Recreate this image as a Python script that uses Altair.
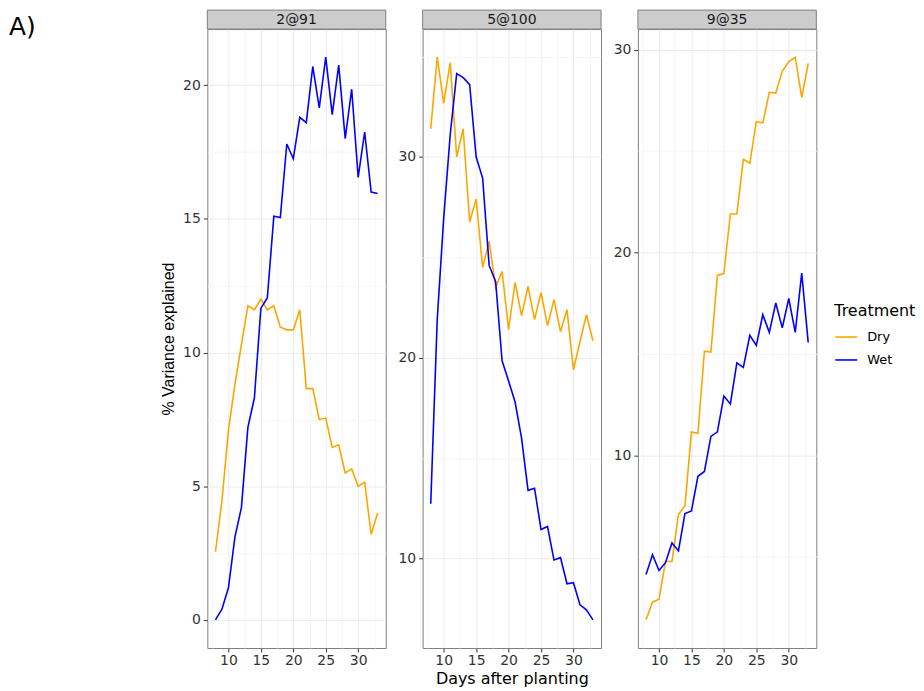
import altair as alt
import pandas as pd

days = list(range(8, 34))

panel_names = ["2@91", "5@100", "9@35"]
treatments = ["Dry", "Wet"]

p1_dry = [2.55, 4.45, 7.1, 8.8, 10.3, 11.75, 11.6, 12.0, 11.6, 11.75, 10.95, 10.85, 10.85,
          11.6, 8.65, 8.65, 7.5, 7.55, 6.45, 6.55, 5.5, 5.65, 5.0, 5.15, 3.2, 4.0]
p1_wet = [0.0, 0.4, 1.2, 3.1, 4.2, 7.2, 8.3, 11.65, 12.05, 15.1, 15.05, 17.8, 17.25,
          18.8, 18.6, 20.7, 19.15, 21.05, 18.9, 20.75, 18.0, 19.85, 16.55, 18.25, 16.0, 15.95]
p2_dry = [31.4, 34.97, 32.67, 34.7, 30.0, 31.4, 26.76, 27.9, 24.5, 25.8, 23.5, 24.3, 21.4,
          23.75, 22.1, 23.55, 21.9, 23.25, 21.6, 22.9, 21.3, 22.4, 19.4, 20.8, 22.15, 20.85]
p2_wet = [12.73, 21.9, 26.97, 31.1, 34.15, 33.95, 33.6, 30.0, 28.95, 24.6, 23.8, 19.85, 18.85,
          17.8, 16.0, 13.4, 13.5, 11.45, 11.6, 9.93, 10.05, 8.75, 8.8, 7.7, 7.45, 6.95]
p3_dry = [1.88, 2.75, 2.9, 4.76, 4.76, 7.08, 7.5, 11.15, 11.08, 15.13, 15.09, 18.87, 18.96,
          21.9, 21.9, 24.59, 24.4, 26.45, 26.39, 27.9, 27.86, 28.94, 29.42, 29.63, 27.64, 29.33]
p3_wet = [4.11, 5.09, 4.31, 4.7, 5.67, 5.28, 7.12, 7.25, 8.96, 9.2, 10.93, 11.15, 12.92,
          12.53, 14.55, 14.33, 15.91, 15.41, 16.93, 16.06, 17.51, 16.28, 17.73, 16.06, 18.98, 15.56]

x_major = [10, 15, 20, 25, 30]
x_minor = [7.5, 12.5, 17.5, 22.5, 27.5, 32.5]
y_major = [[0, 5, 10, 15, 20], [10, 20, 30], [10, 20, 30]]
y_minor = [[2.5, 7.5, 12.5, 17.5], [15, 25, 35], [5, 15, 25]]
y_domains = [[-1.05, 22.1], [5.55, 36.37], [0.49, 31.02]]
x_domain = [6.75, 34.25]

series = [(p1_dry, p1_wet), (p2_dry, p2_wet), (p3_dry, p3_wet)]

W = 179
H = 621
STRIP = 19
LABEL_FONT = "DejaVu Sans"
GRID_MAJOR = "#EBEBEB"
GRID_MINOR = "#F5F5F5"

color_scale = alt.Scale(domain=treatments, range=["#FFA500", "#0000FF"])
legend = alt.Legend(
    title="Treatment", orient="none", legendX=629, legendY=275,
    symbolType="stroke", symbolSize=484, symbolStrokeWidth=1.6,
    titleFont=LABEL_FONT, titleFontSize=16, titleFontWeight="normal", titleColor="#000000",
    labelFont=LABEL_FONT, labelFontSize=13, labelColor="#000000",
    rowPadding=4, titlePadding=6, labelOffset=9,
)


def make_panel(i):
    dry, wet = series[i]
    df = pd.DataFrame({
        "day": days * 2,
        "value": dry + wet,
        "treatment": ["Dry"] * len(days) + ["Wet"] * len(days),
    })
    strip_df = pd.DataFrame({"label": [panel_names[i]], "tag": ["A)"]})
    xs = alt.Scale(domain=x_domain, nice=False, zero=False)
    ys = alt.Scale(domain=y_domains[i], nice=False, zero=False)
    base = alt.Chart(df)

    minor = base.mark_line(opacity=0).encode(
        x=alt.X("day:Q", scale=xs, axis=alt.Axis(
            values=x_minor, orient="top", labels=False, ticks=False, domain=False,
            title=None, grid=True, gridColor=GRID_MINOR, gridWidth=1)),
        y=alt.Y("value:Q", scale=ys, axis=alt.Axis(
            values=y_minor[i], orient="right", labels=False, ticks=False, domain=False,
            title=None, grid=True, gridColor=GRID_MINOR, gridWidth=1)),
        detail="treatment:N",
    )

    x_title = "Days after planting" if i == 1 else None
    y_title = "% Variance explained" if i == 0 else None
    x_axis = alt.Axis(values=x_major, orient="bottom", grid=True, gridColor=GRID_MAJOR,
                      domain=False, tickColor="#333333", tickSize=4, labelPadding=2,
                      labelFont=LABEL_FONT, labelFontSize=14, labelColor="#333333",
                      titleFont=LABEL_FONT, titleFontSize=16, titleFontWeight="normal",
                      titleColor="#000000", titlePadding=3, format="d", title=x_title)
    y_axis = alt.Axis(values=y_major[i], orient="left", grid=True, gridColor=GRID_MAJOR,
                      domain=False, tickColor="#333333", tickSize=4, labelPadding=3,
                      labelFont=LABEL_FONT, labelFontSize=14, labelColor="#333333",
                      titleFont="Liberation Sans", titleFontSize=16, titleFontWeight="normal",
                      titleColor="#000000", titlePadding=6, format="d", title=y_title)
    lines = base.mark_line(strokeWidth=1.6).encode(
        x=alt.X("day:Q", scale=xs, axis=x_axis),
        y=alt.Y("value:Q", scale=ys, axis=y_axis),
        color=alt.Color("treatment:N", scale=color_scale, legend=legend),
    )

    strip_rect = alt.Chart(strip_df).mark_rect(
        fill="#CCCCCC", stroke="#7F7F7F", strokeWidth=1
    ).encode(x=alt.value(0), x2=alt.value(W), y=alt.value(-STRIP), y2=alt.value(0))
    strip_text = alt.Chart(strip_df).mark_text(
        font=LABEL_FONT, fontSize=14, color="#1A1A1A", align="center", baseline="middle"
    ).encode(text="label:N", x=alt.value(W / 2), y=alt.value(-STRIP / 2))

    layers = [minor, lines, strip_rect, strip_text]
    if i == 0:
        tag = alt.Chart(strip_df).mark_text(
            font=LABEL_FONT, fontSize=25, color="#000000", align="left", baseline="middle"
        ).encode(text="tag:N", x=alt.value(-199), y=alt.value(-2))
        layers.append(tag)

    return alt.layer(*layers).resolve_axis(x="independent", y="independent").properties(
        width=W, height=H
    )


chart = alt.hconcat(make_panel(0), make_panel(1), make_panel(2), spacing=10).properties(
    padding=0, background="white"
).configure_view(stroke="#7F7F7F", strokeWidth=1)

chart.save("out.html", embed_options={"renderer": "svg", "actions": False})
